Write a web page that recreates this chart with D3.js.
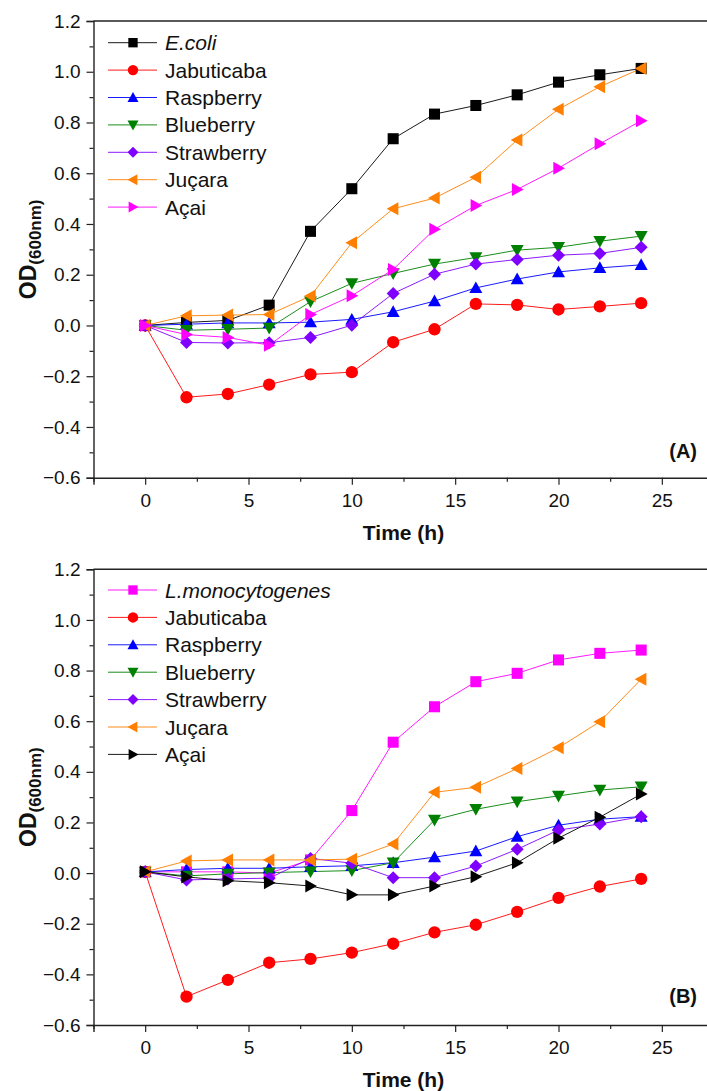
<!DOCTYPE html>
<html><head><meta charset="utf-8">
<script src="https://cdn.jsdelivr.net/npm/d3@7/dist/d3.min.js"></script>
<style>body{margin:0;background:#fff} svg{display:block}</style>
</head><body>
<script>
// ---------- data ----------
const times = [0, 2, 4, 6, 8, 10, 12, 14, 16, 18, 20, 22, 24];

const namesA = ["E.coli", "Jabuticaba", "Raspberry", "Blueberry", "Strawberry", "Juçara", "Açai"];
const ecoliA      = [0, 0.012, 0.02, 0.08, 0.371, 0.539, 0.736, 0.833, 0.867, 0.909, 0.959, 0.988, 1.013];
const jabuticabaA = [0, -0.283, -0.270, -0.233, -0.193, -0.184, -0.066, -0.015, 0.085, 0.081, 0.063, 0.075, 0.088];
const raspberryA  = [0, 0.005, 0.010, 0.010, 0.013, 0.024, 0.054, 0.096, 0.148, 0.183, 0.211, 0.227, 0.239];
const blueberryA  = [0, -0.019, -0.015, -0.010, 0.094, 0.166, 0.205, 0.242, 0.268, 0.297, 0.308, 0.332, 0.352];
const strawberryA = [0, -0.067, -0.069, -0.068, -0.047, 0.001, 0.126, 0.202, 0.242, 0.260, 0.277, 0.284, 0.308];
const jucaraA     = [0, 0.038, 0.041, 0.043, 0.116, 0.326, 0.460, 0.502, 0.584, 0.731, 0.852, 0.941, 1.013];
const acaiA       = [0, -0.036, -0.047, -0.078, 0.043, 0.117, 0.221, 0.379, 0.473, 0.536, 0.620, 0.716, 0.807];

const namesB = ["L.monocytogenes", "Jabuticaba", "Raspberry", "Blueberry", "Strawberry", "Juçara", "Açai"];
const listeriaB   = [0.005, 0.005, 0.005, 0.0, 0.052, 0.247, 0.517, 0.657, 0.756, 0.789, 0.842, 0.868, 0.881];
const jabuticabaB = [0.005, -0.488, -0.422, -0.354, -0.339, -0.314, -0.279, -0.234, -0.204, -0.153, -0.098, -0.053, -0.023];
const raspberryB  = [0.005, 0.014, 0.019, 0.019, 0.025, 0.029, 0.041, 0.063, 0.087, 0.144, 0.189, 0.213, 0.223];
const blueberryB  = [0.005, -0.011, -0.003, 0.002, 0.006, 0.010, 0.041, 0.210, 0.252, 0.282, 0.305, 0.328, 0.341];
const strawberryB = [0.005, -0.027, -0.023, -0.020, 0.058, 0.039, -0.018, -0.018, 0.028, 0.094, 0.170, 0.194, 0.223];
const jucaraB     = [0.005, 0.048, 0.052, 0.052, 0.052, 0.055, 0.115, 0.319, 0.339, 0.413, 0.495, 0.598, 0.766];
const acaiB       = [0.005, -0.015, -0.030, -0.038, -0.051, -0.086, -0.086, -0.051, -0.014, 0.041, 0.138, 0.221, 0.312];

const yTickValues = [-0.6, -0.4, -0.2, 0.0, 0.2, 0.4, 0.6, 0.8, 1.0, 1.2];
const xTickValues = [0, 5, 10, 15, 20, 25];
const panelLabels = ["(A)", "(B)"];

// ---------- styles ----------
const colorsA = ["#000000", "#ff0000", "#0000ff", "#008000", "#8000ff", "#ff8000", "#ff00ff"];
const colorsB = ["#ff00ff", "#ff0000", "#0000ff", "#008000", "#8000ff", "#ff8000", "#000000"];
const shapes  = ["square", "circle", "up", "down", "diamond", "left", "right"];
const FONT = "'Liberation Sans', Arial, Helvetica, sans-serif";

const W = 707, H = 1091;
const svg = d3.select("body").append("svg").attr("width", W).attr("height", H)
  .style("font-family", FONT);

function shapePath(type, s) {
  const h = s / 2;
  switch (type) {
    case "square": return `M${-h*0.85},${-h*0.85}H${h*0.85}V${h*0.85}H${-h*0.85}Z`;
    case "circle": return d3.symbol(d3.symbolCircle, Math.PI * (h*0.95) * (h*0.95))();
    case "up":     return `M0,${-h}L${h},${h*0.8}L${-h},${h*0.8}Z`;
    case "down":   return `M0,${h}L${h},${-h*0.8}L${-h},${-h*0.8}Z`;
    case "left":   return `M${-h},0L${h*0.8},${-h}L${h*0.8},${h}Z`;
    case "right":  return `M${h},0L${-h*0.8},${-h}L${-h*0.8},${h}Z`;
    case "diamond":return `M0,${-h}L${h},0L0,${h}L${-h},0Z`;
  }
}

function panel(cfg) {
  const g = svg.append("g");
  const x = d3.scaleLinear().domain([-2.5, 27.5]).range([93.5, 713.5]);
  const y = d3.scaleLinear().domain([-0.6, 1.2]).range([cfg.bottom, cfg.top]);

  // frame top
  g.append("line").attr("x1", x(-2.5)).attr("x2", W + 5).attr("y1", y(1.2)).attr("y2", y(1.2))
    .attr("stroke", "#222").attr("stroke-width", 1.4);

  // y axis
  const yMinor = d3.range(-6, 13).map(d => d / 10).filter(v => !yTickValues.some(t => Math.abs(t - v) < 1e-6));
  g.append("g").attr("transform", `translate(${x(-2.5)},0)`)
    .call(d3.axisLeft(y).tickValues(yTickValues).tickFormat(d3.format(".1f")).tickSize(7).tickPadding(6));
  g.append("g").attr("transform", `translate(${x(-2.5)},0)`)
    .call(d3.axisLeft(y).tickValues(yMinor).tickSize(4).tickFormat(""))
    .call(a => a.select(".domain").remove());

  // x axis
  const xMinor = d3.range(-1, 12).map(d => d * 2.5).filter(v => v % 5 !== 0);
  g.append("g").attr("transform", `translate(0,${y(-0.6)})`)
    .call(d3.axisBottom(x).tickValues(xTickValues).tickSize(7).tickPadding(9));
  g.append("g").attr("transform", `translate(0,${y(-0.6)})`)
    .call(d3.axisBottom(x).tickValues(xMinor).tickSize(4).tickFormat(""))
    .call(a => a.select(".domain").remove());

  g.selectAll(".domain").attr("stroke", "#222").attr("stroke-width", 1.4);
  g.selectAll(".tick line").attr("stroke", "#222").attr("stroke-width", 1.2);
  g.selectAll(".tick text").attr("font-size", 19).attr("fill", "#111").style("font-family", FONT);

  // series
  cfg.series.forEach((vals, i) => {
    const pts = times.map((t, k) => [t, vals[k]]);
    g.append("path").datum(pts)
      .attr("fill", "none").attr("stroke", cfg.colors[i]).attr("stroke-width", 0.9)
      .attr("d", d3.line().x(d => x(d[0])).y(d => y(d[1])));
  });
  cfg.series.forEach((vals, i) => {
    g.selectAll(null).data(times.map((t, k) => [t, vals[k]])).enter().append("path")
      .attr("transform", d => `translate(${x(d[0])},${y(d[1])})`)
      .attr("d", shapePath(shapes[i], 13))
      .attr("fill", cfg.colors[i]);
  });

  // legend
  const lg = g.append("g");
  cfg.names.forEach((n, i) => {
    const ly = cfg.legendTop + i * 27.4;
    lg.append("line").attr("x1", 108).attr("x2", 157).attr("y1", ly).attr("y2", ly)
      .attr("stroke", cfg.colors[i]).attr("stroke-width", 0.9);
    lg.append("path").attr("transform", `translate(133,${ly})`)
      .attr("d", shapePath(shapes[i], 11)).attr("fill", cfg.colors[i]);
    lg.append("text").attr("x", 165).attr("y", ly).attr("dy", "0.36em")
      .attr("font-size", 21).attr("fill", "#111")
      .attr("font-style", i === 0 ? "italic" : "normal").text(n);
  });

  // panel label
  g.append("text").attr("x", 697).attr("y", cfg.labelY).attr("text-anchor", "end")
    .attr("font-size", 20).attr("font-weight", "bold").attr("fill", "#111").text(cfg.label);

  // axis titles
  g.append("text").attr("x", x(12.5)).attr("y", y(-0.6) + 62).attr("text-anchor", "middle")
    .attr("font-size", 21).attr("font-weight", "bold").attr("fill", "#111").text("Time (h)");

  const yt = g.append("text")
    .attr("transform", `translate(36,${(cfg.top + cfg.bottom) / 2}) rotate(-90)`)
    .attr("text-anchor", "middle").attr("font-weight", "bold").attr("fill", "#111");
  yt.append("tspan").attr("font-size", 23).text("OD");
  yt.append("tspan").attr("font-size", 17).attr("dy", 5).text("(600nm)");
}

panel({
  top: 21, bottom: 477.7, names: namesA, colors: colorsA,
  series: [ecoliA, jabuticabaA, raspberryA, blueberryA, strawberryA, jucaraA, acaiA],
  legendTop: 42.7, label: panelLabels[0], labelY: 458
});
panel({
  top: 569.3, bottom: 1025, names: namesB, colors: colorsB,
  series: [listeriaB, jabuticabaB, raspberryB, blueberryB, strawberryB, jucaraB, acaiB],
  legendTop: 590, label: panelLabels[1], labelY: 1002.5
});
</script>
</body></html>
